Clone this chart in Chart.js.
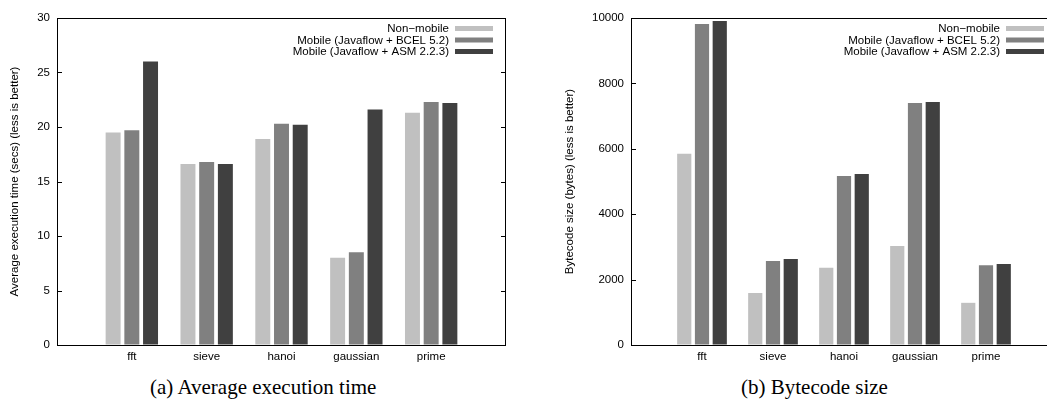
<!DOCTYPE html>
<html>
<head>
<meta charset="utf-8">
<script src="https://cdn.jsdelivr.net/npm/chart.js@4.4.1/dist/chart.umd.min.js"></script>
<style>
  html, body { margin: 0; padding: 0; background: #fff; overflow: hidden; width: 1047px; height: 399px; }
  .wrap { position: absolute; top: 0; }
  .caption { position: absolute; font-family: 'Liberation Serif', 'Times New Roman', serif; font-size: 21px; line-height: 21px; color: #000; white-space: nowrap; }
</style>
</head>
<body>
<div class="wrap" style="left:0px;"><canvas id="timechart" width="520" height="370"></canvas></div>
<div class="wrap" style="left:520px;"><canvas id="sizechart" width="545" height="370"></canvas></div>
<div class="caption" id="capA" style="top:377px;">(a) Average execution time</div>
<div class="caption" id="capB" style="top:377px; left:741px;">(b) Bytecode size</div>
<script>
// benchmarks, padded with an empty slot on each side like the gnuplot x range
var categories = ['', 'fft', 'sieve', 'hanoi', 'gaussian', 'prime', ''];
var seriesNames = ['Non\u2212mobile', 'Mobile (Javaflow + BCEL 5.2)', 'Mobile (Javaflow + ASM 2.2.3)'];
var seriesColors = ['#c0c0c0', '#808080', '#404040'];

// average execution time, secs
var timeNonMobile = [null, 19.5, 16.6, 18.9, 8.0, 21.3, null];
var timeBcel = [null, 19.7, 16.8, 20.3, 8.5, 22.3, null];
var timeAsm = [null, 26.0, 16.6, 20.2, 21.6, 22.2, null];

// bytecode size, bytes
var sizeNonMobile = [null, 5850, 1590, 2360, 3030, 1290, null];
var sizeBcel = [null, 9820, 2570, 5170, 7400, 2440, null];
var sizeAsm = [null, 9910, 2630, 5230, 7430, 2480, null];

Chart.defaults.font.family = "'Liberation Sans', Arial, sans-serif";
Chart.defaults.font.size = 11.5;
Chart.defaults.color = '#000';

var frameAndLegend = {
    id: 'frameAndLegend',
    afterDatasetsDraw: function (chart) {
        var ctx = chart.ctx;
        var a = chart.chartArea;
        var y = chart.scales.y;
        ctx.save();
        ctx.strokeStyle = '#000';
        ctx.lineWidth = 1;
        ctx.strokeRect(Math.round(a.left) + 0.5, Math.round(a.top) + 0.5,
            Math.round(a.right - a.left) - 1, Math.round(a.bottom - a.top));
        // inward tick marks on both sides
        y.ticks.forEach(function (t) {
            var py = Math.round(y.getPixelForValue(t.value)) + 0.5;
            ctx.beginPath();
            ctx.moveTo(a.left, py); ctx.lineTo(a.left + 5, py);
            ctx.moveTo(a.right, py); ctx.lineTo(a.right - 5, py);
            ctx.stroke();
        });
        // legend, top right inside the plot
        ctx.font = '11.5px ' + Chart.defaults.font.family;
        ctx.textAlign = 'right';
        ctx.textBaseline = 'middle';
        chart.data.datasets.forEach(function (ds, i) {
            var ry = a.top + 10.5 + i * 11.5;
            var boxRight = a.right - 13;
            ctx.fillStyle = ds.backgroundColor;
            ctx.fillRect(boxRight - 38, ry - 2.5, 38, 5);
            ctx.fillStyle = '#000';
            ctx.fillText(ds.label, boxRight - 44, ry + 0.5);
        });
        ctx.restore();
    }
};

function makeChart(canvasId, series, yTitle, yMax, yStep, axisWidth, titlePad, padRight) {
    var ctx = document.getElementById(canvasId).getContext('2d');
    return new Chart(ctx, {
        type: 'bar',
        data: {
            labels: categories,
            datasets: series.map(function (values, i) {
                return {
                    label: seriesNames[i],
                    data: values,
                    backgroundColor: seriesColors[i],
                    borderWidth: 0,
                    categoryPercentage: 0.75,
                    barPercentage: 0.8
                };
            })
        },
        options: {
            responsive: false,
            animation: false,
            devicePixelRatio: 1,
            layout: { padding: { top: 18, right: padRight, left: 0, bottom: 0 } },
            plugins: { legend: { display: false }, tooltip: { enabled: false } },
            scales: {
                x: {
                    offset: false,
                    grid: { display: false },
                    border: { display: false },
                    ticks: { padding: -3, autoSkip: false, maxRotation: 0 },
                    afterFit: function (scale) { scale.height = 25; }
                },
                y: {
                    min: 0,
                    max: yMax,
                    ticks: {
                        stepSize: yStep,
                        padding: 7,
                        callback: function (value) { return String(value); }
                    },
                    grid: { drawOnChartArea: false, drawTicks: false },
                    border: { display: false },
                    title: {
                        display: true,
                        text: yTitle,
                        font: { size: 11.5 },
                        padding: { top: titlePad, bottom: 0 }
                    },
                    afterFit: function (scale) { scale.width = axisWidth; }
                }
            }
        },
        plugins: [frameAndLegend]
    });
}

makeChart('timechart', [timeNonMobile, timeBcel, timeAsm],
    'Average execution time (secs) (less is better)', 30, 5, 57, 8, 14);
makeChart('sizechart', [sizeNonMobile, sizeBcel, sizeAsm],
    'Bytecode size (bytes) (less is better)', 10000, 2000, 111, 43, 8);

// centre caption (a) under its panel
var capA = document.getElementById('capA');
capA.style.left = Math.round(263 - capA.offsetWidth / 2) + 'px';
</script>
</body>
</html>
